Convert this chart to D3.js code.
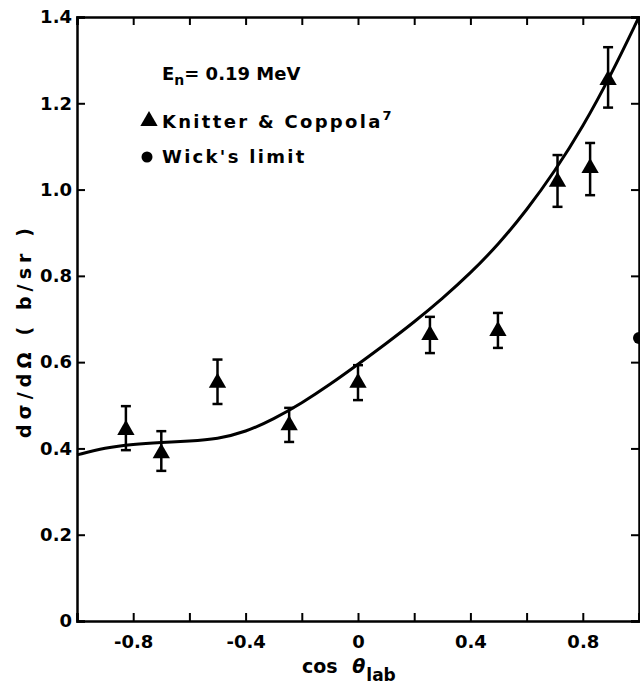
<!DOCTYPE html>
<html>
<head>
<meta charset="utf-8">
<script src="https://cdn.jsdelivr.net/npm/d3@7"></script>
<style>
  body { margin: 0; background: #fff; }
  svg { display: block; }
  text { font-family: "DejaVu Sans", sans-serif; font-weight: bold; fill: #000; }
</style>
</head>
<body>
<div id="chart"></div>
<script>
// measured points (Knitter & Coppola)
var cosVals = [-0.826, -0.70, -0.50, -0.245, 0.0, 0.256, 0.498, 0.71, 0.826, 0.89];
var sigVals = [0.443, 0.389, 0.552, 0.454, 0.552, 0.663, 0.672, 1.018, 1.05, 1.254];
var errLow  = [0.396, 0.348, 0.503, 0.415, 0.512, 0.621, 0.633, 0.96, 0.987, 1.19];
var errHigh = [0.498, 0.44, 0.606, 0.494, 0.593, 0.705, 0.714, 1.08, 1.108, 1.33];

// calculated curve
var curveX = [-1.0, -0.9, -0.8, -0.7, -0.6, -0.5, -0.4, -0.3, -0.2, -0.1, 0.0, 0.1, 0.2, 0.3, 0.4, 0.5, 0.6, 0.7, 0.8, 0.9, 1.0];
var curveY = [0.385, 0.402, 0.410, 0.414, 0.417, 0.422, 0.438, 0.468, 0.505, 0.548, 0.595, 0.643, 0.693, 0.747, 0.806, 0.873, 0.952, 1.042, 1.145, 1.265, 1.40];

// Wick's limit
var wickX = [1.0];
var wickY = [0.656];

var xTicks = [-1, -0.8, -0.6, -0.4, -0.2, 0, 0.2, 0.4, 0.6, 0.8, 1];
var xLabels = [-0.8, -0.4, 0, 0.4, 0.8];
var yTicks = [0, 0.2, 0.4, 0.6, 0.8, 1.0, 1.2, 1.4];

var W = 640, H = 685;
var m = { left: 77, right: 639, top: 17, bottom: 621 };

var svg = d3.select("#chart").append("svg")
    .attr("width", W)
    .attr("height", H);

var x = d3.scaleLinear().domain([-1, 1]).range([m.left, m.right]);
var y = d3.scaleLinear().domain([0, 1.4]).range([m.bottom, m.top]);

// axes - ticks point inwards
var xBottom = d3.axisBottom(x).tickValues(xTicks).tickSize(-8).tickPadding(14)
    .tickFormat(function (d) {
        var hit = xLabels.some(function (v) { return Math.abs(v - d) < 1e-9; });
        if (!hit) return "";
        return d === 0 ? "0" : d3.format(".1f")(d).replace("−", "-");
    });
var xTop = d3.axisTop(x).tickValues(xTicks).tickSize(-8).tickFormat("");
var yLeft = d3.axisLeft(y).tickValues(yTicks).tickSize(-8).tickPadding(5)
    .tickFormat(function (d) { return d === 0 ? "0" : d3.format(".1f")(d); });
var yRight = d3.axisRight(y).tickValues(yTicks).tickSize(-8).tickFormat("");

function styleAxis(g) {
    g.select(".domain").attr("stroke", "#000").attr("stroke-width", 2.5);
    g.selectAll(".tick line").attr("stroke", "#000").attr("stroke-width", 2);
    g.selectAll(".tick text").style("font-size", "18px").attr("fill", "#000");
}

svg.append("g").attr("transform", "translate(0," + m.bottom + ")").call(xBottom).call(styleAxis);
svg.append("g").attr("transform", "translate(0," + m.top + ")").call(xTop).call(styleAxis);
svg.append("g").attr("transform", "translate(" + m.left + ",0)").call(yLeft).call(styleAxis);
svg.append("g").attr("transform", "translate(" + m.right + ",0)").call(yRight).call(styleAxis);

// calculated curve
var curveData = curveX.map(function (v, i) { return [v, curveY[i]]; });
svg.append("path")
    .datum(curveData)
    .attr("fill", "none")
    .attr("stroke", "#000")
    .attr("stroke-width", 3)
    .attr("d", d3.line()
        .x(function (d) { return x(d[0]); })
        .y(function (d) { return y(d[1]); })
        .curve(d3.curveBasis));

// error bars
var pts = cosVals.map(function (v, i) {
    return { c: v, s: sigVals[i], lo: errLow[i], hi: errHigh[i] };
});
var eb = svg.append("g").attr("stroke", "#000").attr("stroke-width", 2.5);
eb.selectAll(".vbar").data(pts).enter().append("line")
    .attr("x1", function (d) { return x(d.c); })
    .attr("x2", function (d) { return x(d.c); })
    .attr("y1", function (d) { return y(d.lo); })
    .attr("y2", function (d) { return y(d.hi); });
eb.selectAll(".capHi").data(pts).enter().append("line")
    .attr("x1", function (d) { return x(d.c) - 5; })
    .attr("x2", function (d) { return x(d.c) + 5; })
    .attr("y1", function (d) { return y(d.hi); })
    .attr("y2", function (d) { return y(d.hi); });
eb.selectAll(".capLo").data(pts).enter().append("line")
    .attr("x1", function (d) { return x(d.c) - 5; })
    .attr("x2", function (d) { return x(d.c) + 5; })
    .attr("y1", function (d) { return y(d.lo); })
    .attr("y2", function (d) { return y(d.lo); });

// triangles
var tri = d3.symbol().type(d3.symbolTriangle).size(130);
svg.selectAll(".tri").data(pts).enter().append("path")
    .attr("d", tri)
    .attr("transform", function (d) { return "translate(" + x(d.c) + "," + y(d.s) + ")"; })
    .attr("fill", "#000");

// Wick's limit point
svg.selectAll(".wick").data(wickX).enter().append("circle")
    .attr("cx", function (d) { return x(d); })
    .attr("cy", function (d, i) { return y(wickY[i]); })
    .attr("r", 6)
    .attr("fill", "#000");

// legend
var leg = svg.append("g");
var t1 = leg.append("text").attr("x", 162).attr("y", 80).style("font-size", "18px");
t1.append("tspan").text("E");
t1.append("tspan").attr("dy", 5).style("font-size", "14px").text("n");
t1.append("tspan").attr("dy", -5).text("= 0.19 MeV");

leg.append("path").attr("d", tri).attr("transform", "translate(149,121)").attr("fill", "#000");
var t2 = leg.append("text").attr("x", 162).attr("y", 128).style("font-size", "18px").style("letter-spacing", "2.3px");
t2.append("tspan").text("Knitter & Coppola");
t2.append("tspan").attr("dy", -8).style("font-size", "13px").text("7");

leg.append("circle").attr("cx", 147).attr("cy", 157).attr("r", 5.5).attr("fill", "#000");
leg.append("text").attr("x", 162).attr("y", 163).style("font-size", "18px").style("letter-spacing", "2.3px").text("Wick's limit");

// axis titles
svg.append("text")
    .attr("transform", "translate(31,333) rotate(-90)")
    .attr("text-anchor", "middle")
    .style("font-size", "19px")
    .attr("textLength", 210)
    .attr("lengthAdjust", "spacing")
    .text("dσ/dΩ ( b/sr )");

var xt = svg.append("text").attr("x", 302).attr("y", 673).style("font-size", "19px");
xt.append("tspan").text("cos ");
xt.append("tspan").attr("dx", 8).style("font-style", "italic").text("θ");
xt.append("tspan").attr("dy", 8).attr("dx", 1).style("font-size", "17px").text("lab");
</script>
</body>
</html>
